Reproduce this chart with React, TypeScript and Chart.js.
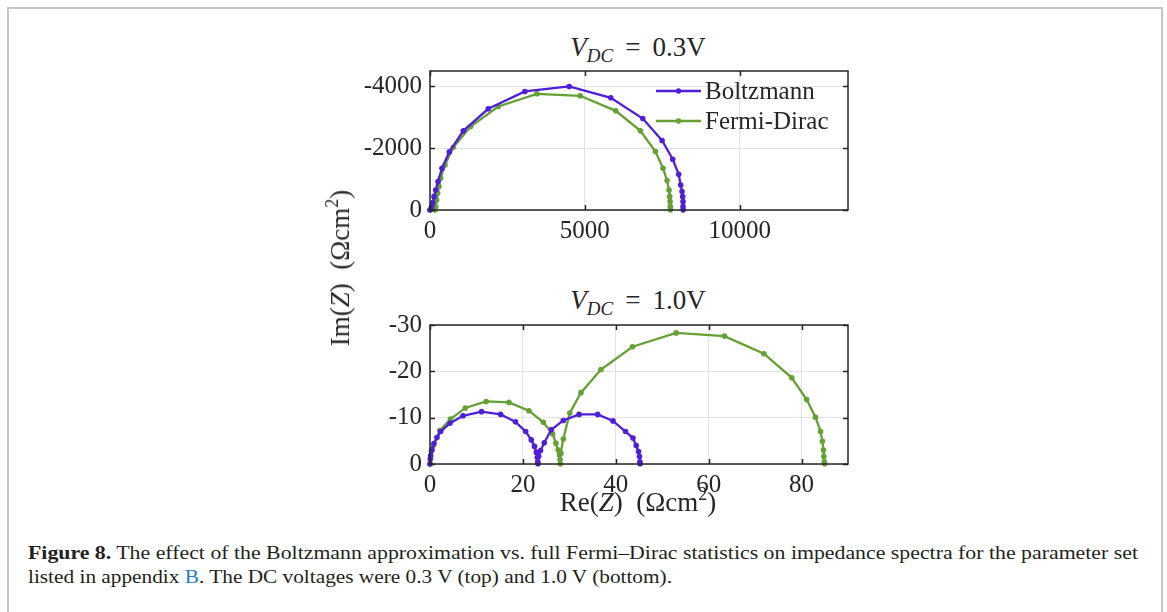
import React, { useEffect, useRef } from 'react';
import { Chart, registerables } from 'chart.js';
Chart.register(...registerables);

const SERIF = "'Liberation Serif', 'DejaVu Serif', serif";
const PURPLE = '#4f1fd8';
const GREEN = '#64a034';

// Top plot (V_DC = 0.3 V)
const topBoltzRe = [0, 22, 54, 86, 129, 183, 258, 387, 624, 1075, 1882, 3065, 4495, 5839, 6871, 7495, 7839, 8032, 8097, 8140, 8161, 8172, 8172, 8175];
const topBoltzIm = [0, -22, -108, -238, -432, -649, -919, -1351, -1881, -2562, -3276, -3838, -4000, -3632, -2962, -2249, -1643, -1157, -811, -595, -432, -270, -108, -5];
const topFermiRe = [0, 161, 183, 215, 247, 290, 344, 484, 753, 1312, 2204, 3452, 4850, 6000, 6796, 7280, 7527, 7656, 7720, 7742, 7753, 7763, 7765];
const topFermiIm = [0, 0, -108, -324, -541, -757, -1027, -1459, -2032, -2703, -3351, -3762, -3697, -3211, -2562, -1892, -1351, -951, -649, -432, -270, -108, -5];
const topXTicks = [0, 5000, 10000];
const topYTicks = [0, -2000, -4000];

// Bottom plot (V_DC = 1.0 V)
const botBoltzRe = [0, 0.05, 0.14, 0.43, 0.86, 1.5, 2.3, 4.3, 7.1, 11.1, 15.2, 18.4, 20.6, 21.8, 22.5, 22.9, 23.1, 23.2, 23.25, 23.4, 23.8, 24.6, 26.1, 28.7, 32.1, 36.1, 39.4, 42.1, 43.7, 44.4, 44.9, 45.1, 45.2, 45.25];
const botBoltzIm = [0, -1.1, -1.8, -3.1, -4.4, -5.7, -7.0, -8.8, -10.4, -11.3, -10.7, -9.1, -7.0, -5.2, -3.8, -2.5, -1.4, -0.5, -0.05, -1.6, -2.9, -4.6, -7.4, -9.4, -10.7, -10.7, -9.3, -7.0, -5.6, -4.0, -2.7, -1.6, -0.5, -0.05];
const botFermiRe = [0, 0.3, 0.7, 2.1, 4.4, 7.6, 12.1, 17.0, 21.3, 24.4, 26.4, 27.1, 27.6, 27.9, 28.0, 28.05, 28.2, 28.7, 30.1, 32.5, 36.8, 43.6, 53.0, 63.4, 71.9, 77.9, 81.1, 83.0, 84.1, 84.5, 84.7, 84.8, 84.9, 84.95];
const botFermiIm = [0, -2.7, -4.0, -7.2, -9.7, -12.1, -13.5, -13.3, -11.5, -9.0, -6.5, -4.5, -3.0, -1.96, -0.9, -0.05, -2.3, -5.4, -11.0, -15.4, -20.4, -25.3, -28.3, -27.6, -23.8, -18.6, -13.9, -10.1, -7.0, -4.9, -3.0, -1.6, -0.5, -0.05];
const botXTicks = [0, 20, 40, 60, 80];
const botYTicks = [0, -10, -20, -30];

const seriesLabels = ['Boltzmann', 'Fermi-Dirac'];

const pts = (xs: number[], ys: number[]) => xs.map((x, i) => ({ x, y: ys[i] }));

const framePlugin = {
  id: 'frame',
  afterDraw(chart: any) {
    const { ctx, chartArea: a, scales } = chart;
    ctx.save();
    ctx.strokeStyle = '#262626';
    ctx.lineWidth = 1.5;
    const tl = 5;
    ctx.beginPath();
    for (const t of scales.x.ticks) {
      const px = Math.round(scales.x.getPixelForValue(t.value)) + 0.5;
      ctx.moveTo(px, a.bottom); ctx.lineTo(px, a.bottom - tl);
      ctx.moveTo(px, a.top); ctx.lineTo(px, a.top + tl);
    }
    for (const t of scales.y.ticks) {
      const py = Math.round(scales.y.getPixelForValue(t.value)) + 0.5;
      ctx.moveTo(a.left, py); ctx.lineTo(a.left + tl, py);
      ctx.moveTo(a.right, py); ctx.lineTo(a.right - tl, py);
    }
    ctx.stroke();
    ctx.strokeRect(a.left, a.top, a.right - a.left, a.bottom - a.top);
    ctx.restore();
  },
};

const innerLegend = {
  id: 'innerLegend',
  afterDraw(chart: any, _args: any, opts: any) {
    if (!opts || !opts.show) return;
    const { ctx, chartArea: a } = chart;
    ctx.save();
    ctx.font = `25px ${SERIF}`;
    ctx.textBaseline = 'middle';
    chart.data.datasets.forEach((ds: any, i: number) => {
      const y = a.top + 20 + i * 30;
      const x0 = a.right - 192;
      const x1 = a.right - 147;
      ctx.strokeStyle = ds.borderColor;
      ctx.lineWidth = 2.3;
      ctx.beginPath(); ctx.moveTo(x0, y); ctx.lineTo(x1, y); ctx.stroke();
      ctx.fillStyle = ds.borderColor;
      ctx.beginPath(); ctx.arc((x0 + x1) / 2, y, 2.7, 0, Math.PI * 2); ctx.fill();
      ctx.fillStyle = '#262626';
      ctx.fillText(ds.label, a.right - 143, y + 1);
    });
    ctx.restore();
  },
};

const zeroPad = (s: any) => { s.paddingTop = 0; s.paddingBottom = 0; s.paddingLeft = 0; s.paddingRight = 0; };

function makeConfig(
  datasets: any[], xMax: number, xTicks: number[], yMin: number, yTicks: number[],
  showLegend: boolean, padTop: number, xHeight: number,
): any {
  const tickFont = { family: SERIF, size: 25 };
  return {
    type: 'line',
    data: { datasets },
    options: {
      animation: false,
      responsive: false,
      devicePixelRatio: 1,
      layout: { padding: { top: padTop, right: 22, left: 0, bottom: 0 } },
      plugins: {
        legend: { display: false },
        tooltip: { enabled: false },
        innerLegend: { show: showLegend },
      },
      scales: {
        x: {
          type: 'linear', min: 0, max: xMax,
          ticks: { font: tickFont, color: '#262626', padding: 6, maxRotation: 0, autoSkip: false, callback: (v: number) => String(v) },
          grid: { color: '#e2e2e2', drawTicks: false },
          border: { display: false },
          afterBuildTicks: (s: any) => { s.ticks = xTicks.map((v) => ({ value: v })); },
          afterFit: (s: any) => { s.height = xHeight; zeroPad(s); },
        },
        y: {
          type: 'linear', min: yMin, max: 0, reverse: true,
          ticks: { font: tickFont, color: '#262626', padding: 8, autoSkip: false, callback: (v: number) => String(v) },
          grid: { color: '#e2e2e2', drawTicks: false },
          border: { display: false },
          afterBuildTicks: (s: any) => { s.ticks = yTicks.map((v) => ({ value: v })); },
          afterFit: (s: any) => { s.width = 100; zeroPad(s); },
        },
      },
    },
    plugins: [framePlugin, innerLegend],
  };
}

function ds(label: string, color: string, data: any[]) {
  return {
    label, data, borderColor: color, backgroundColor: color,
    borderWidth: 2.3, pointRadius: 2.8, pointBorderWidth: 0,
    pointBackgroundColor: color, tension: 0, clip: 6,
  };
}

function ChartCanvas({ config, left, top, width, height }: any) {
  const ref = useRef<HTMLCanvasElement>(null);
  useEffect(() => {
    const chart = new Chart(ref.current as HTMLCanvasElement, config());
    return () => chart.destroy();
  }, []);
  return (
    <canvas ref={ref} width={width} height={height}
      style={{ position: 'absolute', left, top, width, height }} />
  );
}

export default function App() {
  const topCfg = () => makeConfig(
    [ds(seriesLabels[0], PURPLE, pts(topBoltzRe, topBoltzIm)), ds(seriesLabels[1], GREEN, pts(topFermiRe, topFermiIm))],
    13500, topXTicks, -4500, topYTicks, true, 11, 50);
  const botCfg = () => makeConfig(
    [ds(seriesLabels[0], PURPLE, pts(botBoltzRe, botBoltzIm)), ds(seriesLabels[1], GREEN, pts(botFermiRe, botFermiIm))],
    90, botXTicks, -30, botYTicks, false, 10, 51);

  const mathText: React.CSSProperties = { fontFamily: SERIF, fontSize: 27, color: '#262626', whiteSpace: 'nowrap', position: 'absolute', lineHeight: '30px' };
  const sub: React.CSSProperties = { fontSize: 19, lineHeight: 0, verticalAlign: '-6px', fontStyle: 'italic' };
  const sup: React.CSSProperties = { fontSize: 18, lineHeight: 0, verticalAlign: '11px' };
  const eq: React.CSSProperties = { margin: '0 12px' };

  return (
    <div style={{ position: 'absolute', left: 0, top: 0, width: 1167, height: 612, overflow: 'hidden', background: '#fff' }}>
      <div style={{ position: 'absolute', left: 7, top: 7, width: 1152, height: 700, borderLeft: '2px solid #c6c6c6', borderTop: '2px solid #c6c6c6', borderRight: '2px solid #c6c6c6' }} />
      <div style={{ ...mathText, left: 438, width: 400, top: 32, textAlign: 'center' }}>
        <i>V</i><span style={sub}>DC</span><span style={eq}>=</span>0.3V
      </div>
      <div style={{ ...mathText, left: 438, width: 400, top: 285, textAlign: 'center' }}>
        <i>V</i><span style={sub}>DC</span><span style={eq}>=</span>1.0V
      </div>
      <ChartCanvas config={topCfg} left={330} top={60} width={540} height={200} />
      <ChartCanvas config={botCfg} left={330} top={315} width={540} height={200} />
      <div style={{ ...mathText, left: 340, top: 268, transform: 'translate(-50%, -50%) rotate(-90deg)' }}>
        Im(<i>Z</i>)&nbsp;&nbsp;(Ωcm<span style={sup}>2</span>)
      </div>
      <div style={{ ...mathText, left: 638, top: 502, transform: 'translate(-50%, -50%)' }}>
        Re(<i>Z</i>)&nbsp;&nbsp;(Ωcm<span style={sup}>2</span>)
      </div>
      <svg width={1167} height={82} style={{ position: 'absolute', left: 0, top: 530 }}>
        <text x={28} y={29} textLength={1110} lengthAdjust="spacingAndGlyphs" style={{ fontFamily: SERIF, fontSize: 18 }} fill="#231f20">
          <tspan fontWeight="bold">Figure 8.</tspan> The effect of the Boltzmann approximation vs. full Fermi–Dirac statistics on impedance spectra for the parameter set
        </text>
        <text x={28} y={53} textLength={644} lengthAdjust="spacingAndGlyphs" style={{ fontFamily: SERIF, fontSize: 18 }} fill="#231f20">
          listed in appendix <tspan fill="#2b7bbd">B</tspan>. The DC voltages were 0.3 V (top) and 1.0 V (bottom).
        </text>
      </svg>
    </div>
  );
}
